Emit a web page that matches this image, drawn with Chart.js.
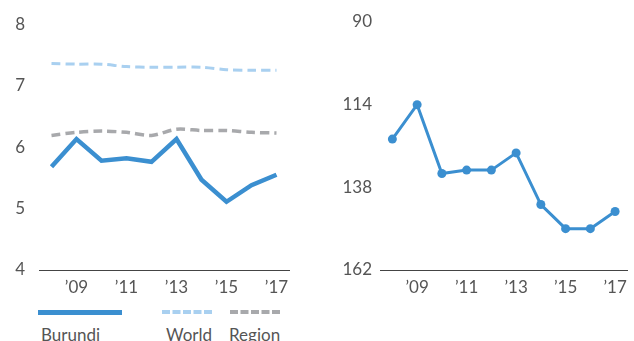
<!DOCTYPE html>
<html>
<head>
<meta charset="utf-8">
<script src="https://cdn.jsdelivr.net/npm/chart.js@4"></script>
<style>
  body { margin: 0; background: #fff; width: 634px; height: 341px; overflow: hidden; font-family: Lato, "Open Sans", sans-serif; }
  #left { position: absolute; left: 0; top: 0; width: 300px; height: 300px; }
  #right { position: absolute; left: 300px; top: 0; width: 334px; height: 300px; }
  .sw { position: absolute; top: 310px; height: 0; }
  .lbl { position: absolute; top: 324px; font-size: 17px; color: #555; }
</style>
</head>
<body>
<div id="left"><canvas id="ratioChart"></canvas></div>
<div id="right"><canvas id="rankChart"></canvas></div>

<div class="sw" style="left:38px;width:84px;border-top:5px solid #3b8fd0;"></div>
<div class="lbl" style="left:41px;">Burundi</div>
<div class="sw" style="left:162px;width:50px;border-top:4px dashed #a9d0f0;"></div>
<div class="lbl" style="left:166px;">World</div>
<div class="sw" style="left:230px;width:50px;border-top:4px dashed #a8a9ac;"></div>
<div class="lbl" style="left:229px;">Region</div>

<script>
const years = ["2008", "2009", "2010", "2011", "2012", "2013", "2014", "2015", "2016", "2017"];
const tickYears = { "2009": "\u201909", "2011": "\u201911", "2013": "\u201913", "2015": "\u201915", "2017": "\u201917" };

const burundi = [5.68, 6.13, 5.78, 5.82, 5.76, 6.13, 5.47, 5.11, 5.38, 5.55];
const world = [7.36, 7.35, 7.35, 7.31, 7.30, 7.30, 7.30, 7.26, 7.25, 7.25];
const region = [6.19, 6.24, 6.26, 6.24, 6.19, 6.29, 6.27, 6.27, 6.24, 6.23];

const rank = [124, 114, 134, 133, 133, 128, 143, 150, 150, 145];

const tickFont = { family: "Lato, 'Open Sans', sans-serif", size: 17 };
const textColor = "#555";

function xAxis() {
  return {
    type: "category",
    offset: true,
    grid: { display: false, drawTicks: false },
    border: { display: true, color: "#444", width: 1 },
    ticks: {
      autoSkip: false,
      maxRotation: 0,
      padding: 7,
      color: textColor,
      font: tickFont,
      callback: function (v) { return tickYears[this.getLabelForValue(v)] || ""; },
    },
    afterFit: (s) => { s.height = 30; },
  };
}

// Left chart: score
new Chart(document.getElementById("ratioChart"), {
  type: "line",
  data: {
    labels: years,
    datasets: [
      { label: "World", data: world, borderColor: "#a9d0f0", borderWidth: 3, borderDash: [9, 5], pointRadius: 0, tension: 0.3 },
      { label: "Region", data: region, borderColor: "#a8a9ac", borderWidth: 3.5, borderDash: [9, 5], pointRadius: 0, tension: 0.3 },
      { label: "Burundi", data: burundi, borderColor: "#3b8fd0", borderWidth: 4.5, pointRadius: 0, tension: 0 },
    ],
  },
  options: {
    responsive: true,
    maintainAspectRatio: false,
    animation: false,
    layout: { padding: { top: 22, right: 11, left: 0, bottom: 0 } },
    plugins: { legend: { display: false }, tooltip: { enabled: false } },
    scales: {
      x: xAxis(),
      y: {
        min: 4,
        max: 8,
        grid: { display: false, drawTicks: false },
        border: { display: false },
        ticks: { stepSize: 1, padding: 14, color: textColor, font: tickFont },
        afterFit: (s) => { s.width = 39; },
      },
    },
  },
});

// Right chart: rank (reversed)
new Chart(document.getElementById("rankChart"), {
  type: "line",
  data: {
    labels: years,
    datasets: [
      {
        label: "Rank",
        data: rank,
        borderColor: "#3b8fd0",
        backgroundColor: "#3b8fd0",
        borderWidth: 3,
        pointRadius: 4.5,
        pointBorderWidth: 0,
        tension: 0,
      },
    ],
  },
  options: {
    responsive: true,
    maintainAspectRatio: false,
    animation: false,
    layout: { padding: { top: 22, right: 4, left: 0, bottom: 0 } },
    plugins: { legend: { display: false }, tooltip: { enabled: false } },
    scales: {
      x: xAxis(),
      y: {
        reverse: true,
        min: 90,
        max: 162,
        grid: { display: false, drawTicks: false },
        border: { display: false },
        ticks: { stepSize: 24, padding: 8, color: textColor, font: tickFont },
        afterFit: (s) => { s.width = 80; },
      },
    },
  },
});
</script>
</body>
</html>
